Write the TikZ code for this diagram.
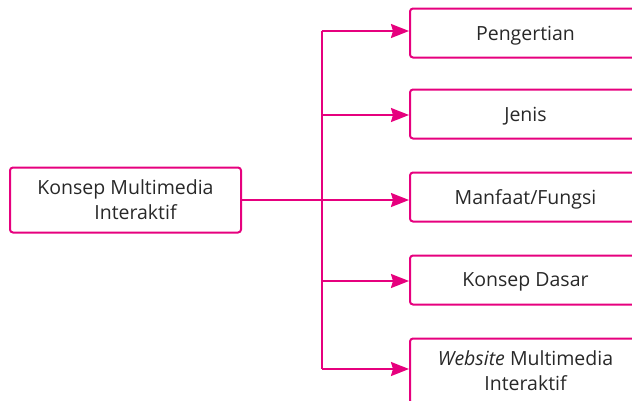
\documentclass[tikz,border=0pt]{standalone}
\usepackage{fontspec}
\setmainfont{Open Sans}
\usetikzlibrary{arrows.meta}

\definecolor{magentaline}{RGB}{230,0,126}
\definecolor{textgray}{RGB}{40,40,40}

\begin{document}
\begin{tikzpicture}[x=1pt, y=-1pt,
    box/.style={draw=magentaline, line width=2pt, rounded corners=3pt,
        minimum width=231pt, minimum height=49pt, align=center,
        text=textgray, font=\fontsize{19.5}{25}\selectfont, inner sep=2pt,
        text depth=0pt},
    link/.style={draw=magentaline, line width=2pt},
    arrowlink/.style={link, -{Stealth[length=18pt, width=14pt, inset=2pt]}}]
    \useasboundingbox (0,0) rectangle (632,400);
    % Main topic
    \node[box, minimum height=65pt] (konsep) at (125.5,200)
        {Konsep Multimedia\\ \hspace*{20pt}Interaktif};
    % Sub topics
    \node[box] (pengertian) at (525.5,33) {Pengertian};
    \node[box] (jenis) at (525.5,114) {Jenis};
    \node[box] (manfaat) at (525.5,197) {Manfaat/Fungsi};
    \node[box] (dasar) at (525.5,280) {Konsep Dasar};
    \node[box, minimum height=65pt] (website) at (525.5,371)
        {\textit{Website} Multimedia\\ Interaktif};
    % Branch lines
    \coordinate (cabang) at (321.5,200);
    \coordinate (atas) at (321.5,31);
    \coordinate (bawah) at (321.5,369);
    \draw[link] (konsep.east) -- (cabang);
    \draw[link] (atas) -- (bawah);
    \draw[arrowlink] (atas) -- (atas -| pengertian.west);
    \draw[arrowlink] (321.5,115) -- (321.5,115 -| jenis.west);
    \draw[arrowlink] (cabang) -- (cabang -| manfaat.west);
    \draw[arrowlink] (321.5,281) -- (321.5,281 -| dasar.west);
    \draw[arrowlink] (bawah) -- (bawah -| website.west);
\end{tikzpicture}
\end{document}
